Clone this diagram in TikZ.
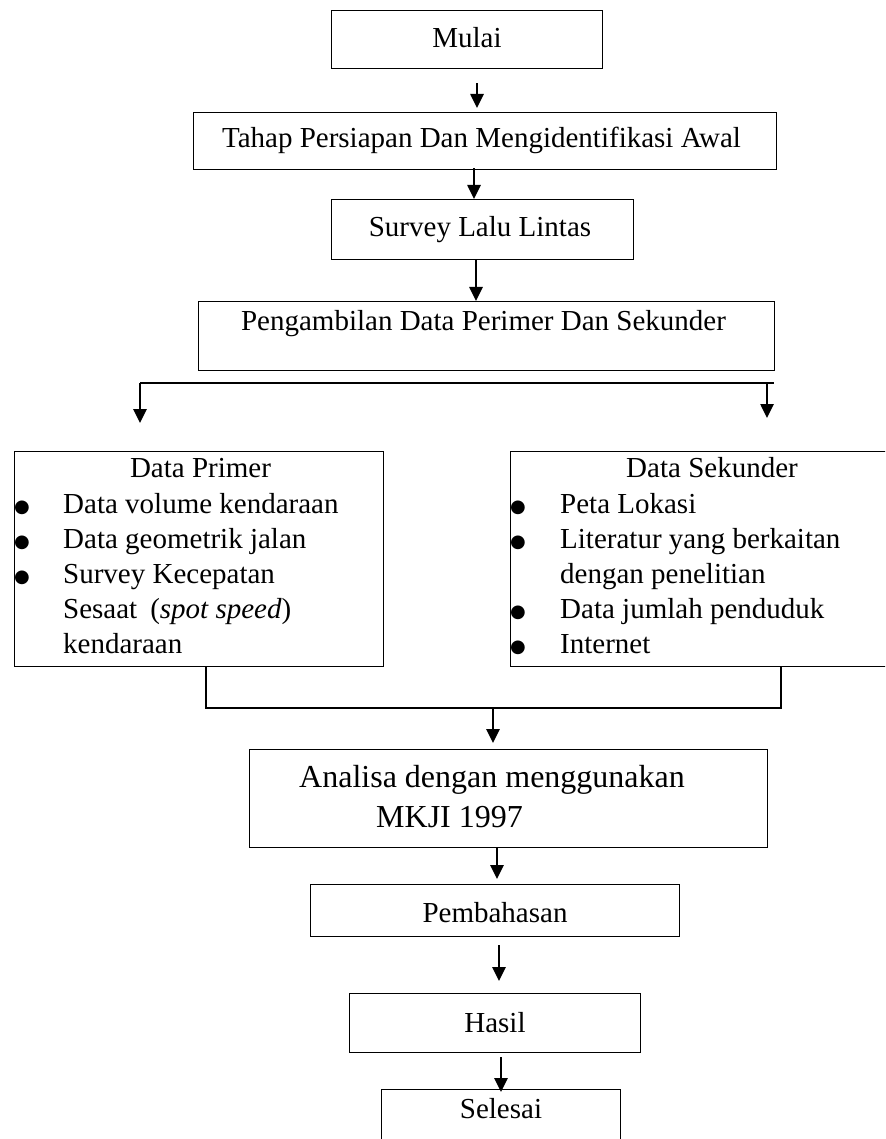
\documentclass[tikz,border=0pt]{standalone}
\usepackage{fontspec}
\setmainfont{Liberation Serif}
\newfontfamily\symfont{DejaVu Sans}
\usetikzlibrary{arrows.meta}
\begin{document}
\begin{tikzpicture}[x=1pt,y=-1pt,
  box/.style={draw=black, line width=1.2pt, inner sep=0pt, anchor=north west},
  txt/.style={inner sep=0pt, anchor=base, font=\fontsize{29}{35}\selectfont},
  ltxt/.style={txt, anchor=base west},
  bul/.style={inner sep=0pt, anchor=base, font=\symfont\fontsize{18}{18}\selectfont},
  btxt/.style={inner sep=0pt, anchor=base west, font=\fontsize{32}{38}\selectfont},
  arr/.style={line width=2.6pt, -{Triangle[width=13pt,length=14pt]}},
  thinline/.style={line width=1.2pt}]
\useasboundingbox (0,0) rectangle (885,1139);
\clip (0,0) rectangle (885,1139);

% boxes
\node[box, minimum width=271pt, minimum height=58pt] (mulai) at (331,10) {};
\node[box, minimum width=583pt, minimum height=57pt] (tahap) at (193,112) {};
\node[box, minimum width=302pt, minimum height=60pt] (survey) at (331,199) {};
\node[box, minimum width=576pt, minimum height=69pt] (ambil) at (198,301) {};
\node[box, minimum width=369pt, minimum height=215pt] (primer) at (14,451) {};
\node[box, minimum width=404pt, minimum height=215pt] (sekunder) at (510,451) {};
\node[box, minimum width=518pt, minimum height=98pt] (analisa) at (249,749) {};
\node[box, minimum width=369pt, minimum height=52pt] (bahas) at (310,884) {};
\node[box, minimum width=291pt, minimum height=59pt] (hasil) at (349,993) {};
\node[box, minimum width=239pt, minimum height=70pt] (selesai) at (381,1089) {};

% texts
\node[txt] (tmulai) at (467,48) {Mulai};
\node[txt] (ttahap) at (481.5,148) {Tahap Persiapan Dan Mengidentifikasi Awal};
\node[txt] (tsurvey) at (480,237) {Survey Lalu Lintas};
\node[txt] (tambil) at (483.5,330) {Pengambilan Data Perimer Dan Sekunder};

\node[txt] (tprimer) at (200.5,477) {Data Primer};
\node[bul] (bp1) at (22,512) {●};
\node[bul] (bp2) at (22,547) {●};
\node[bul] (bp3) at (22,582) {●};
\node[ltxt] (p1) at (63,513) {Data volume kendaraan};
\node[ltxt] (p2) at (63,548) {Data geometrik jalan};
\node[ltxt] (p3) at (63,583) {Survey Kecepatan};
\node[ltxt] (p4) at (63,618) {Sesaat\hspace{13pt}(\textit{spot speed})};
\node[ltxt] (p5) at (63,653) {kendaraan};

\node[txt] (tsekunder) at (712,477) {Data Sekunder};
\node[bul] (bs1) at (518,512) {●};
\node[bul] (bs2) at (518,547) {●};
\node[bul] (bs3) at (518,617) {●};
\node[bul] (bs4) at (518,652) {●};
\node[ltxt] (s1) at (560,513) {Peta Lokasi};
\node[ltxt] (s2) at (560,548) {Literatur yang berkaitan};
\node[ltxt] (s3) at (560,583) {dengan penelitian};
\node[ltxt] (s4) at (560,618) {Data jumlah penduduk};
\node[ltxt] (s5) at (560,653) {Internet};

\node[btxt] (tanalisa1) at (299,787) {Analisa dengan menggunakan};
\node[btxt] (tanalisa2) at (376,827) {MKJI 1997};
\node[txt] (tbahas) at (495,922) {Pembahasan};
\node[txt] (thasil) at (495,1032) {Hasil};
\node[txt] (tselesai) at (501,1118) {Selesai};

% coordinates for connector columns
\coordinate (x1) at (477,0);
\coordinate (x2) at (474,0);
\coordinate (x3) at (476,0);
\coordinate (sl) at (140,383);
\coordinate (sr) at (774,383);
\coordinate (srA) at (767,383);
\coordinate (bl) at (206,708);
\coordinate (br) at (781,708);
\coordinate (bm) at (493,708);
\coordinate (x5) at (497,0);
\coordinate (x6) at (499,0);
\coordinate (x7) at (501,0);

% connectors
\draw[arr, shorten <=14pt, shorten >=4pt] (mulai.south -| x1) -- (tahap.north -| x1);
\draw[arr, shorten <=-2pt] (tahap.south -| x2) -- (survey.north -| x2);
\draw[arr] (survey.south -| x3) -- (ambil.north -| x3);

\draw[thinline] (sl) -- (sr);
\draw[arr, shorten >=28pt] (sl) -- (primer.north -| sl);
\draw[arr, shorten >=33pt] (srA) -- (sekunder.north -| srA);

\draw[thinline] (primer.south -| bl) -- (bl) -- (br) -- (sekunder.south -| br);
\draw[arr, shorten >=6pt] (bm) -- (analisa.north -| bm);

\draw[arr, shorten >=5pt] (analisa.south -| x5) -- (bahas.north -| x5);
\draw[arr, shorten <=8pt, shorten >=12pt] (bahas.south -| x6) -- (hasil.north -| x6);
\draw[arr, shorten <=4pt, shorten >=-3pt] (hasil.south -| x7) -- (selesai.north -| x7);
\end{tikzpicture}
\end{document}
